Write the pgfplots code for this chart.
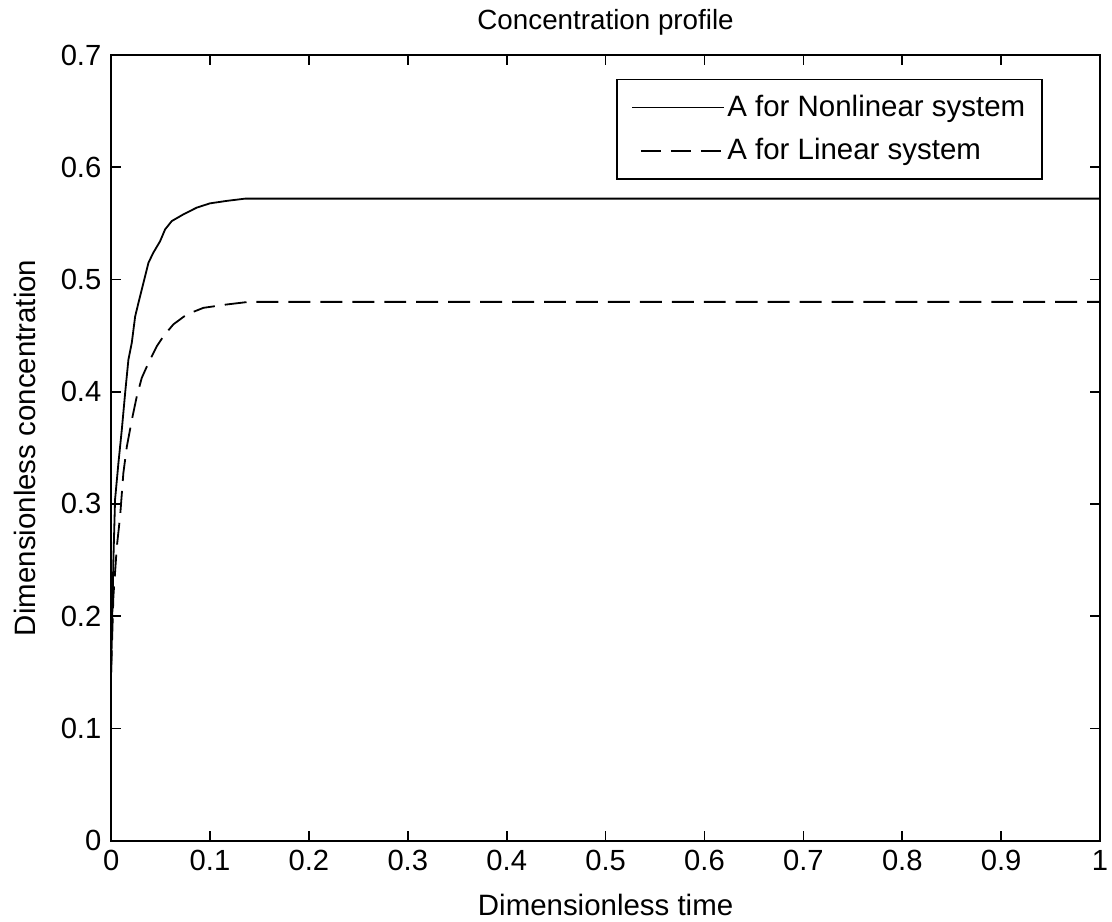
\documentclass[border=0pt]{standalone}
\usepackage{pgfplots}
\pgfplotsset{compat=1.18}
\usepackage{fontspec}
\setmainfont{Liberation Sans}
\begin{document}
\begin{tikzpicture}
\begin{axis}[
  scale only axis,
  width=356pt, height=282.8pt,
  xmin=0, xmax=1, ymin=0, ymax=0.7,
  xtick={0,0.1,...,1.0},
  ytick={0,0.1,...,0.7},
  xticklabels={0,0.1,0.2,0.3,0.4,0.5,0.6,0.7,0.8,0.9,1},
  yticklabels={0,0.1,0.2,0.3,0.4,0.5,0.6,0.7},
  tick align=inside,
  tick pos=both,
  major tick length=3.6pt,
  axis line style={line width=0.7pt},
  every tick/.style={black, line width=0.6pt},
  ticklabel style={font=\fontsize{10.5}{12}\selectfont},
  /pgf/number format/assume math mode=true,
  title={Concentration profile},
  title style={font=\fontsize{10}{12}\selectfont, at={(axis description cs:0.5,1.02)}, anchor=center},
  xlabel={Dimensionless time},
  ylabel={Dimensionless concentration},
  label style={font=\fontsize{10.6}{12}\selectfont},
  xlabel style={at={(axis description cs:0.5,-0.082)}, anchor=center},
  ylabel style={at={(axis description cs:-0.087,0.5)}, anchor=center},
  legend style={at={(0.942,0.970)}, anchor=north east, draw=black, line width=0.6pt,
    font=\fontsize{10.6}{12}\selectfont, inner xsep=5pt, inner ysep=3.5pt,
    row sep=2.5pt,
    nodes={inner xsep=1pt}},
  legend cell align=left,
  legend image code/.code={\draw[#1, line width=0.65pt] (0pt,0pt) -- (33pt,0pt);},
]
\addplot[black, line width=0.65pt] coordinates {
(0,0.15) (0.0023,0.25) (0.004,0.304) (0.0074,0.3365) (0.0108,0.366) (0.0142,0.399)
(0.0175,0.4286) (0.0209,0.4435) (0.0243,0.467) (0.0276,0.479) (0.0327,0.497)
(0.0378,0.515) (0.0428,0.524) (0.0495,0.534) (0.0546,0.5446) (0.0613,0.552)
(0.0731,0.558) (0.0866,0.564) (0.1,0.5678) (0.117,0.570) (0.1355,0.572) (1,0.572)
};
\addlegendentry{A for Nonlinear system}
\addplot[black, line width=0.65pt, dash pattern=on 7.9pt off 3.6pt,
  legend image code/.code={\draw[black, line width=0.65pt, dash pattern=on 7.2pt off 3.6pt] (3.2pt,0pt) -- (33pt,0pt);}] coordinates {
(0,0.15) (0.0023,0.2175) (0.0058,0.262) (0.0091,0.289) (0.0124,0.3276) (0.0159,0.351)
(0.021,0.375) (0.026,0.396) (0.031,0.4123) (0.0378,0.4257) (0.0462,0.4405)
(0.0529,0.4494) (0.063,0.46) (0.0765,0.4688) (0.0933,0.4747) (0.117,0.4777)
(0.139,0.48) (1,0.48)
};
\addlegendentry{A for Linear system}
\end{axis}
\path (current axis.south west) ++(-40pt,-29.3pt) coordinate (bbA);
\path (current axis.north east) ++(4.3pt,19.8pt) coordinate (bbB);
\pgfresetboundingbox
\path[use as bounding box] (bbA) rectangle (bbB);
\end{tikzpicture}
\end{document}
